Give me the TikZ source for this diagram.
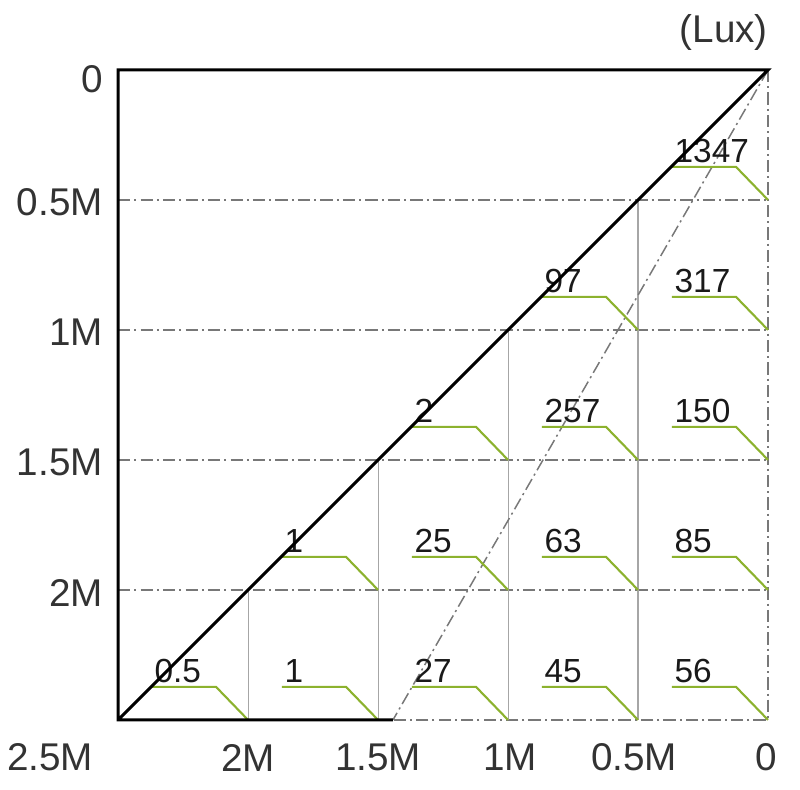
\documentclass[tikz,border=0pt]{standalone}
\usepackage{fontspec}
\setmainfont{Liberation Sans}
\definecolor{luxgreen}{RGB}{140,178,46}
\definecolor{gridgray}{RGB}{120,120,120}
\tikzset{
  frame/.style={line width=1.7pt, black},
  dashdot line/.style={gridgray, line width=0.85pt, dash pattern=on 7pt off 2.3pt on 1.2pt off 2.3pt},
  cellline/.style={gray!70, line width=0.6pt},
  trend/.style={luxgreen, line width=1.2pt},
  value/.style={anchor=south west, inner sep=0pt, xshift=1pt, yshift=2pt, font=\fontsize{19}{22}\selectfont, black!90},
  axislabel/.style={font=\fontsize{22}{26}\selectfont, black!80, inner sep=0pt},
}
\begin{document}
\begin{tikzpicture}[x=2.6cm,y=2.6cm]
    \useasboundingbox (-0.908,-0.538) rectangle (5.246,5.538);

    % Corners of the chart
    \coordinate (bl) at (0,0);
    \coordinate (br) at (5,0);
    \coordinate (tl) at (0,5);
    \coordinate (tr) at (5,5);
    \coordinate (edge) at (2.115,0);

    % Dash-dot grid lines
    \draw[dashdot line] (0,1) -- (5,1);
    \draw[dashdot line] (0,2) -- (5,2);
    \draw[dashdot line] (0,3) -- (5,3);
    \draw[dashdot line] (0,4) -- (5,4);
    \draw[dashdot line] (tr) -- (br) -- (edge);

    % Cell borders below the diagonal
    \draw[cellline] (1,0) -- (1,1);
    \draw[cellline] (2,0) -- (2,2);
    \draw[cellline] (3,0) -- (3,3);
    \draw[cellline] (4,0) -- (4,4);

    % Steep dash-dot diagonal
    \draw[dashdot line] (tr) -- (edge);

    % Illuminance values, top row
    \draw[trend] (4.26,4.254) node[value] (v1347) {1347} -- (4.754,4.254) -- (5,4);

    % second row
    \draw[trend] (3.26,3.254) node[value] (v97) {97} -- (3.754,3.254) -- (4,3);
    \draw[trend] (4.26,3.254) node[value] (v317) {317} -- (4.754,3.254) -- (5,3);

    % third row
    \draw[trend] (2.26,2.254) node[value] (v2) {2} -- (2.754,2.254) -- (3,2);
    \draw[trend] (3.26,2.254) node[value] (v257) {257} -- (3.754,2.254) -- (4,2);
    \draw[trend] (4.26,2.254) node[value] (v150) {150} -- (4.754,2.254) -- (5,2);

    % fourth row
    \draw[trend] (1.26,1.254) node[value] (v1a) {1} -- (1.754,1.254) -- (2,1);
    \draw[trend] (2.26,1.254) node[value] (v25) {25} -- (2.754,1.254) -- (3,1);
    \draw[trend] (3.26,1.254) node[value] (v63) {63} -- (3.754,1.254) -- (4,1);
    \draw[trend] (4.26,1.254) node[value] (v85) {85} -- (4.754,1.254) -- (5,1);

    % bottom row
    \draw[trend] (0.26,0.254) node[value] (v05) {0.5} -- (0.754,0.254) -- (1,0);
    \draw[trend] (1.26,0.254) node[value] (v1b) {1} -- (1.754,0.254) -- (2,0);
    \draw[trend] (2.26,0.254) node[value] (v27) {27} -- (2.754,0.254) -- (3,0);
    \draw[trend] (3.26,0.254) node[value] (v45) {45} -- (3.754,0.254) -- (4,0);
    \draw[trend] (4.26,0.254) node[value] (v56) {56} -- (4.754,0.254) -- (5,0);

    % Frame and main diagonal
    \draw[frame] (edge) -- (bl) -- (tl) -- (tr) -- (bl);

    % Axis labels
    \node[axislabel, anchor=east] (y0) at (-0.115,4.93) {0};
    \node[axislabel, anchor=east] (y05) at (-0.115,3.98) {0.5M};
    \node[axislabel, anchor=east] (y1) at (-0.115,2.98) {1M};
    \node[axislabel, anchor=east] (y15) at (-0.115,1.98) {1.5M};
    \node[axislabel, anchor=east] (y2) at (-0.115,0.98) {2M};
    \node[axislabel] (x25) at (-0.523,-0.29) {2.5M};
    \node[axislabel] (x2) at (1,-0.29) {2M};
    \node[axislabel] (x15) at (2,-0.29) {1.5M};
    \node[axislabel] (x1) at (3.015,-0.29) {1M};
    \node[axislabel] (x05) at (3.97,-0.29) {0.5M};
    \node[axislabel] (x0) at (4.99,-0.29) {0};
    \node[axislabel] (unit) at (4.66,5.29) {(Lux)};
\end{tikzpicture}
\end{document}
